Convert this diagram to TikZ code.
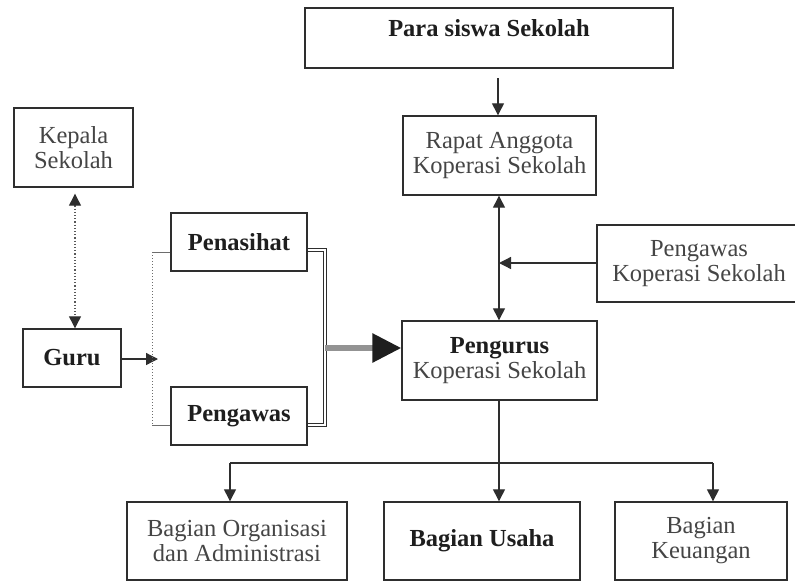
\documentclass[tikz,border=0pt]{standalone}
\usepackage{fontspec}
\setmainfont{Liberation Serif}
\usetikzlibrary{arrows.meta}
\definecolor{linec}{HTML}{2E2E2E}
\definecolor{textc}{HTML}{454545}
\definecolor{boldc}{HTML}{1E1E1E}
\tikzset{
  box/.style={draw=linec, line width=1.4pt, rectangle, inner sep=0pt, align=center,
    font=\fontsize{24.5}{25}\selectfont, text=textc},
  boldbox/.style={box, font=\fontsize{24.5}{25}\selectfont\bfseries, text=boldc},
  conn/.style={draw=linec, line width=1.3pt, -{Triangle[length=12pt,width=12pt]}},
  dconn/.style={draw=linec, line width=1.3pt, {Triangle[length=12pt,width=12pt]}-{Triangle[length=12pt,width=12pt]}},
  dotconn/.style={draw=linec!80, line width=1.2pt, dotted, {Triangle[length=12pt,width=12pt,color=linec]}-{Triangle[length=12pt,width=12pt,color=linec]}},
  plain/.style={draw=linec, line width=1.3pt},
}
\begin{document}
\begin{tikzpicture}[x=1pt,y=-1pt]
\useasboundingbox (0,0) rectangle (795,581);
\clip (0,0) rectangle (795,581);
% nodes
\node[boldbox, minimum width=368pt, minimum height=60pt, text depth=20pt] (para) at (489,38) {Para siswa Sekolah};
\node[box, minimum width=193pt, minimum height=79pt] (rapat) at (499.5,155.5) {Rapat Anggota\\Koperasi Sekolah};
\node[box, minimum width=204pt, minimum height=77pt] (pks) at (699,263.5) {Pengawas\\Koperasi Sekolah};
\node[box, minimum width=195pt, minimum height=79pt] (pengurus) at (499.5,360.5) {\textbf{\color{boldc}Pengurus}\\Koperasi Sekolah};
\node[box, minimum width=119pt, minimum height=79pt] (kepala) at (73.5,147.5) {Kepala\\Sekolah};
\node[boldbox, minimum width=98pt, minimum height=58pt] (guru) at (72,358) {Guru};
\node[boldbox, minimum width=136pt, minimum height=58pt] (penasihat) at (239,242) {Penasihat};
\node[boldbox, minimum width=136pt, minimum height=58pt] (pengawas) at (239,416) {Pengawas};
\node[box, minimum width=220pt, minimum height=78pt] (org) at (237,541) {Bagian Organisasi\\dan Administrasi};
\node[boldbox, minimum width=196pt, minimum height=78pt] (usaha) at (482,541) {Bagian Usaha};
\node[box, minimum width=172pt, minimum height=78pt] (keu) at (701,541) {Bagian\\Keuangan};
% coordinates
\coordinate (pa) at (498,78);
\coordinate (jn) at (499,263);
\coordinate (gtip) at (158,359);
\coordinate (bt) at (152,252);
\coordinate (bb) at (152,425);
\coordinate (dtop) at (325,250);
\coordinate (dbot) at (325,425);
\coordinate (thk) at (325,348);
\coordinate (hl) at (230,463);
\coordinate (hr) at (713,463);
% connectors
\draw[conn] (pa) -- (pa |- rapat.north);
\draw[dconn] (rapat.south -| 499,0) -- (pengurus.north -| 499,0);
\draw[conn] (pks.west |- jn) -- (jn);
\draw[dotconn, shorten <=6pt] (kepala.south -| 75,0) -- (guru.north -| 75,0);
\draw[conn] (guru.east |- gtip) -- (gtip);
\draw[draw=linec!70, line width=1pt] (penasihat.west |- bt) -- (bt);
\draw[draw=linec!70, line width=1pt] (pengawas.west |- bb) -- (bb);
\draw[draw=linec!70, line width=1pt, dotted] (bt) -- (bb);
\draw[draw=linec, line width=1.1pt, double=white, double distance=2.6pt]
  (penasihat.east |- dtop) -- (dtop) -- (dbot) -- (pengawas.east |- dbot);
\draw[draw=gray!85, line width=6pt, -{Triangle[length=29pt,width=28pt,color=boldc]}] (thk) -- (pengurus.west |- thk);
\draw[plain] (pengurus.south -| 499,0) -- (499,463);
\draw[conn] (499,463) -- (usaha.north -| 499,0);
\draw[plain] (hl) -- (hr);
\draw[conn] (hl) -- (org.north -| hl);
\draw[conn] (hr) -- (keu.north -| hr);
\end{tikzpicture}
\end{document}
